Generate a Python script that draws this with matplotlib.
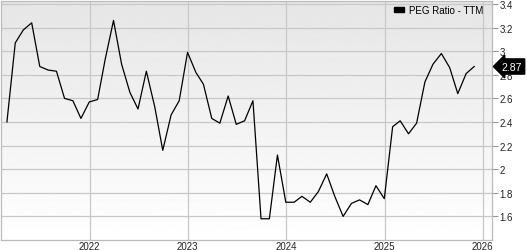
import matplotlib
matplotlib.use("Agg")
import matplotlib.pyplot as plt
import matplotlib.dates as mdates
from matplotlib.patches import Patch
import numpy as np
import pandas as pd

plt.rcParams['font.family'] = ['Liberation Sans', 'DejaVu Sans']

# monthly PEG ratio (TTM), month-end values
dates = pd.date_range('2021-02-28', periods=58, freq='ME')
peg = [2.40, 3.07, 3.18, 3.24, 2.87, 2.84, 2.83, 2.60, 2.58, 2.43, 2.57,
       2.59, 2.93, 3.26, 2.89, 2.65, 2.51, 2.83, 2.53, 2.16, 2.46, 2.58, 2.99,
       2.82, 2.72, 2.43, 2.39, 2.62, 2.38, 2.41, 2.58, 1.58, 1.58, 2.12, 1.72,
       1.72, 1.77, 1.72, 1.81, 1.96, 1.77, 1.60, 1.71, 1.74, 1.70, 1.86, 1.75,
       2.36, 2.41, 2.30, 2.39, 2.74, 2.89, 2.98, 2.86, 2.64, 2.81, 2.87]
series_name = 'PEG Ratio - TTM'
year_ticks = [2022, 2023, 2024, 2025, 2026]
y_ticks = [1.6, 1.8, 2.0, 2.2, 2.4, 2.6, 2.8, 3.0, 3.2, 3.4]

W, H = 527, 251
fig = plt.figure(figsize=(W / 100, H / 100), dpi=100)
ax = fig.add_axes([1 / W, 10 / H, 490.7 / W, 239 / H])

# light gray -> white gradient background
grad = np.linspace(0.90, 1.0, 256).reshape(-1, 1)
ax.imshow(grad, cmap='gray', vmin=0, vmax=1, aspect='auto',
          extent=[0, 1, 0, 1], transform=ax.transAxes, zorder=0,
          origin='upper')

ax.plot(dates, peg, color='black', lw=0.9, zorder=3)

ax.set_xlim(pd.Timestamp('2021-02-06'), pd.Timestamp('2026-02-03'))
ax.set_ylim(1.4, 3.425)

ax.set_xticks([pd.Timestamp(f'{y}-01-01') for y in year_ticks])
ax.xaxis.set_major_formatter(mdates.DateFormatter('%Y'))
ax.set_yticks(y_ticks)
ax.set_yticklabels([f'{v:g}' for v in y_ticks])
ax.yaxis.tick_right()

ax.grid(True, color='#c8c8c8', lw=0.9, zorder=1)
ax.set_axisbelow(True)
for s in ax.spines.values():
    s.set_color('#bbbbbb')
    s.set_linewidth(0.9)

ax.tick_params(axis='x', length=0, pad=0.8, labelsize=7, colors='#222222')
ax.tick_params(axis='y', length=4, width=0.8, color='#999999', pad=1.5,
               labelsize=7, labelcolor='#222222')

leg = ax.legend(handles=[Patch(facecolor='black', edgecolor='black')],
                labels=[series_name], loc='upper right',
                bbox_to_anchor=(0.983, 0.985), frameon=False, fontsize=7,
                handlelength=1.1, handleheight=0.4, handletextpad=0.5,
                borderpad=0, borderaxespad=0)

# last value tag on the right axis
ax.annotate(f'{peg[-1]:.2f}', xy=(1.0, peg[-1]),
            xycoords=('axes fraction', 'data'),
            xytext=(10, 0), textcoords='offset pixels',
            ha='left', va='center', fontsize=7.5, color='white',
            bbox=dict(boxstyle='larrow,pad=0.25', fc='black', ec='black'),
            annotation_clip=False, zorder=5)

fig.savefig('out.png', dpi=100)
